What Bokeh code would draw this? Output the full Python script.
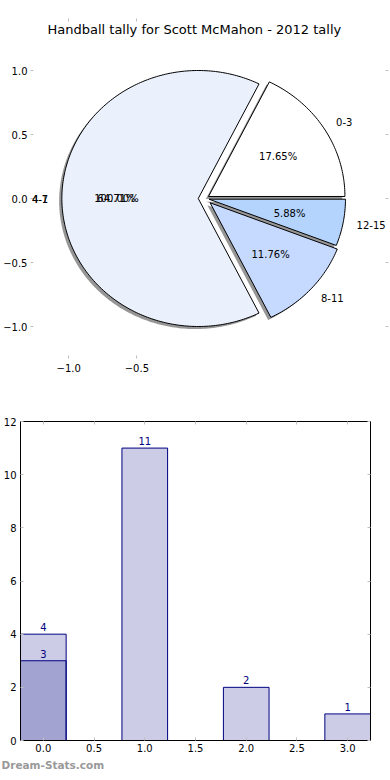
import numpy as np
from bokeh.plotting import figure
from bokeh.models import (ColumnDataSource, FixedTicker, CustomJSTickFormatter,
                          LinearAxis, Title, Range1d, LabelSet)
from bokeh.embed import file_html
from bokeh.resources import INLINE
from bokeh.core.properties import value

# ---------------- data ----------------
pie_labels = ["0-3", "4-7", "8-11", "12-15"]
pie_values = [3, 11, 2, 1]
pie_colors = ["#FFFFFF", "#EAF1FD", "#C6D9FE", "#B4D4FE"]
pie_explode = [0.03, 0.05, 0.05, 0.03]
# stray labels printed on top of the "4-7" slot in the original
overlap_labels = ["4-1"]
overlap_pcts = ["100.00%"]

bar_x = [0, 1, 2, 3]
bar_values = [4, 11, 2, 1]
bar_x2 = [0]
bar_values2 = [3]

pie_yticks = [-1.0, -0.5, 0.0, 0.5, 1.0]
pie_xticks = [-1.0, -0.5]
bar_xticks = [0, 0.5, 1, 1.5, 2, 2.5, 3]
bar_yticks = [0, 2, 4, 6, 8, 10, 12]

FONT = "DejaVu Sans"
TICK_GRAY = "#c0c0c0"
NAVY = "#000080"

fmt1 = CustomJSTickFormatter(code="return tick.toFixed(1).replace('-', '\u2212');")
fmt0 = CustomJSTickFormatter(code="return tick.toFixed(0);")
blank = CustomJSTickFormatter(code="return '';")


def style_axis(ax, ticks, formatter, labels=True, line=None, standoff=4):
    ax.ticker = FixedTicker(ticks=ticks)
    ax.formatter = formatter if labels else blank
    ax.axis_line_color = line
    ax.major_tick_line_color = TICK_GRAY
    ax.major_tick_in = 3
    ax.major_tick_out = 0
    ax.minor_tick_line_color = None
    ax.major_label_text_font = FONT
    ax.major_label_text_font_size = "10px"
    ax.major_label_text_color = "#000000"
    ax.major_label_standoff = standoff if labels else 0


# ---------------- pie ----------------
p1 = figure(width=390, height=376, x_range=Range1d(-1.28, 1.345),
            y_range=Range1d(-1.25, 1.25), output_backend="svg",
            toolbar_location=None, min_border_top=38, min_border_bottom=18,
            min_border_left=28, min_border_right=2)
p1.add_layout(Title(text="Handball tally for Scott McMahon - 2012 tally",
                    align="left", text_font=FONT, text_font_size="13px",
                    text_font_style="normal", text_color="#000000", standoff=3,
                    offset=17), "above")
p1.outline_line_color = None
p1.xgrid.visible = False
p1.ygrid.visible = False
style_axis(p1.xaxis[0], pie_xticks, fmt1, standoff=5)
style_axis(p1.yaxis[0], pie_yticks, fmt1, standoff=3)
top1 = LinearAxis()
right1 = LinearAxis()
style_axis(top1, pie_xticks, fmt1, labels=False)
style_axis(right1, pie_yticks, fmt1, labels=False)
p1.add_layout(top1, "above")
p1.add_layout(right1, "right")

total = float(sum(pie_values))
fracs = np.array(pie_values, dtype=float) / total
ends = np.cumsum(fracs) * 2 * np.pi
starts = np.concatenate([[0.0], ends[:-1]])

wx, wy, sx, sy = [], [], [], []
labL = dict(x=[], y=[], text=[])
labR = dict(x=[], y=[], text=[])
pct = dict(x=[], y=[], text=[])
for lab, f, s, e, ex in zip(pie_labels, fracs, starts, ends, pie_explode):
    mid = 0.5 * (s + e)
    cx, cy = ex * np.cos(mid), ex * np.sin(mid)
    t = np.linspace(s, e, max(3, int((e - s) / (2 * np.pi) * 360)))
    px = np.concatenate([[cx], cx + np.cos(t), [cx]])
    py = np.concatenate([[cy], cy + np.sin(t), [cy]])
    wx.append(px)
    wy.append(py)
    sx.append(px - 0.02)
    sy.append(py - 0.02)
    lx, ly = cx + 1.1 * np.cos(mid), cy + 1.1 * np.sin(mid)
    tgt = labL if lx > 0 else labR
    tgt["x"].append(lx)
    tgt["y"].append(ly)
    tgt["text"].append(lab)
    pct["x"].append(cx + 0.6 * np.cos(mid))
    pct["y"].append(cy + 0.6 * np.sin(mid))
    pct["text"].append("%.2f%%" % (100 * f))
    if lab == "4-7":
        for ol in overlap_labels:
            tgt["x"].append(lx)
            tgt["y"].append(ly)
            tgt["text"].append(ol)
        for op in overlap_pcts:
            pct["x"].append(cx + 0.6 * np.cos(mid))
            pct["y"].append(cy + 0.6 * np.sin(mid))
            pct["text"].append(op)

p1.patches(xs=sx, ys=sy, fill_color="#404040", fill_alpha=0.55, line_color=None)
p1.patches(xs=wx, ys=wy, fill_color=pie_colors, line_color="#000000", line_width=1)
common = dict(x="x", y="y", text="text", text_font=value(FONT), text_font_size="10px",
              text_color="#000000", text_baseline="middle")
p1.add_layout(LabelSet(source=ColumnDataSource(labL), text_align="left", **common))
p1.add_layout(LabelSet(source=ColumnDataSource(labR), text_align="right", **common))
p1.add_layout(LabelSet(source=ColumnDataSource(pct), text_align="center", **common))

# ---------------- bars ----------------
p2 = figure(width=390, height=402, x_range=Range1d(-0.225, 3.225),
            y_range=Range1d(0, 12), output_backend="svg", toolbar_location=None,
            min_border_top=45, min_border_bottom=38, min_border_left=19,
            min_border_right=20)
p2.outline_line_color = "#000000"
p2.outline_line_width = 1
p2.xgrid.visible = False
p2.ygrid.visible = False
style_axis(p2.xaxis[0], bar_xticks, fmt1, line="#000000", standoff=3)
style_axis(p2.yaxis[0], bar_yticks, fmt0, line="#000000", standoff=4)
top2 = LinearAxis()
right2 = LinearAxis()
style_axis(top2, bar_xticks, fmt1, labels=False, line="#000000")
style_axis(right2, bar_yticks, fmt0, labels=False, line="#000000")
p2.add_layout(top2, "above")
p2.add_layout(right2, "right")

p2.vbar(x=bar_x, top=bar_values, width=0.45, fill_color=NAVY, fill_alpha=0.2,
        line_color=NAVY, line_width=1)
p2.vbar(x=bar_x2, top=bar_values2, width=0.45, fill_color=NAVY, fill_alpha=0.2,
        line_color=NAVY, line_width=1)
btxt = dict(text_font=value(FONT), text_font_size="10px", text_color=NAVY,
            text_align="center", text_baseline="bottom", y_offset=-3)
p2.text(x=bar_x, y=bar_values, text=[str(v) for v in bar_values], **btxt)
p2.text(x=bar_x2, y=bar_values2, text=[str(v) for v in bar_values2], **btxt)

wm = Title(text="Dream-Stats.com", align="left", text_color="#999999",
           text_font=FONT, text_font_size="10.5px", text_font_style="bold",
           offset=-19, standoff=4)
p2.add_layout(wm, "below")

# two independent roots so the frames are not forced into alignment
open("out.html", "w").write(file_html([p1, p2], INLINE))
